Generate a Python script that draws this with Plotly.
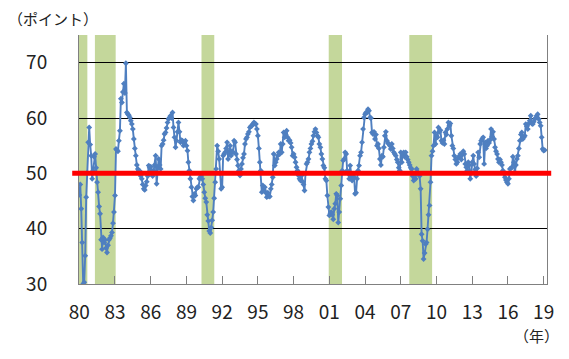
import pandas as pd
import plotly.graph_objects as go

# ISM-style PMI, monthly from Jan 1980
pmi_1980s = [
    46.1, 48.0, 43.6, 37.5, 30.0, 30.3, 35.1, 45.7, 50.1, 55.6, 58.3, 55.2,
    53.2, 49.0, 50.5, 53.0, 53.5, 51.0, 48.4, 46.6, 44.0, 42.7, 38.0, 36.3,
    38.4, 37.5, 38.0, 36.5, 35.7, 37.0, 38.0, 38.3, 38.7, 39.3, 41.0, 43.0,
    46.0, 54.4, 54.2, 54.0, 55.9, 57.7, 63.5, 62.8, 64.7, 66.2, 64.5, 69.9,
    61.0, 60.7, 60.5, 60.1, 59.5, 58.9, 58.0, 56.2, 54.5, 53.2, 51.5, 50.8,
    50.5, 50.4, 49.5, 49.0, 48.0, 47.2, 47.0, 47.8, 48.5, 49.5, 51.4, 51.0,
    51.2, 50.5, 49.5, 50.5, 51.5, 53.2, 48.1, 51.0, 52.6, 51.5, 50.8, 55.0,
    55.3, 56.0, 57.1, 57.4, 58.2, 59.2, 59.8, 60.1, 60.4, 60.0, 61.0, 58.3,
    56.5, 54.7, 55.9, 57.5, 59.2, 57.5, 55.6, 56.0, 55.9, 55.0, 55.5, 55.9,
    55.0, 54.1, 52.0, 50.5, 49.0, 47.5, 45.8, 45.1, 46.3, 46.0, 47.2, 47.5,
]
pmi_1990s = [
    47.5, 49.0, 49.3, 49.5, 49.0, 48.0, 46.6, 45.5, 44.8, 42.5, 41.4, 39.6,
    39.2, 40.2, 41.5, 43.0, 45.5, 48.4, 50.8, 55.0, 54.0, 52.6, 50.0, 47.2,
    47.5, 53.2, 53.5, 53.8, 54.5, 55.6, 52.6, 53.5, 55.0, 53.2, 54.0, 53.8,
    55.9, 55.6, 53.5, 52.5, 51.4, 50.5, 49.6, 50.8, 51.7, 52.8, 53.5, 55.3,
    56.2, 56.5, 57.1, 57.5, 58.3, 58.5, 58.6, 58.9, 59.2, 59.0, 58.9, 58.0,
    56.8, 54.5, 52.0, 50.5, 46.6, 47.8, 47.0, 47.5, 46.5, 45.7, 46.5, 45.9,
    45.8, 47.2, 48.0, 49.3, 53.5, 51.4, 52.0, 52.6, 53.2, 53.8, 53.5, 55.3,
    53.8, 55.3, 57.4, 56.5, 57.0, 57.7, 56.5, 55.9, 56.0, 55.5, 54.7, 53.2,
    53.5, 52.9, 52.0, 51.1, 50.5, 49.6, 49.0, 48.7, 49.6, 48.5, 48.0, 46.9,
    50.0, 51.7, 52.0, 52.6, 53.8, 54.5, 55.3, 55.8, 56.8, 57.5, 58.0, 57.4,
]
pmi_2000s = [
    56.8, 56.5, 55.3, 54.7, 53.5, 52.6, 51.4, 51.0, 49.0, 48.7, 46.0, 43.9,
    42.4, 42.8, 43.0, 42.5, 41.7, 43.6, 44.5, 46.3, 46.0, 41.1, 43.0, 45.4,
    47.8, 50.5, 52.3, 52.6, 53.8, 53.5, 50.5, 50.0, 49.0, 51.4, 49.5, 48.7,
    49.5, 49.3, 46.3, 46.5, 49.0, 50.5, 51.4, 53.2, 53.8, 55.6, 58.0, 60.1,
    60.7, 61.0, 61.0, 61.6, 61.3, 60.1, 60.0, 57.4, 57.1, 57.5, 56.2, 57.0,
    55.0, 55.3, 54.5, 52.6, 51.5, 53.2, 53.0, 54.7, 56.8, 57.5, 55.9, 55.5,
    55.3, 55.0, 54.4, 55.3, 54.5, 53.8, 53.5, 53.2, 52.5, 52.0, 51.0, 50.5,
    53.8, 52.0, 53.5, 53.8, 53.0, 53.8, 53.0, 52.5, 52.0, 51.5, 51.0, 50.8,
    49.5, 48.7, 49.0, 49.0, 50.8, 50.2, 50.0, 49.5, 47.2, 39.0, 37.8, 34.5,
    35.6, 37.2, 37.5, 39.9, 42.5, 44.2, 48.4, 53.2, 54.0, 55.0, 57.4, 55.3,
]
pmi_2010s = [
    56.8, 56.5, 58.3, 57.5, 57.8, 55.9, 55.5, 56.0, 55.3, 57.4, 57.0, 58.0,
    59.2, 58.6, 59.0, 56.8, 55.0, 54.5, 53.2, 52.5, 51.7, 52.0, 52.9, 53.0,
    53.5, 52.5, 53.4, 54.0, 53.5, 51.7, 51.1, 50.5, 52.0, 51.5, 49.0, 50.2,
    52.0, 53.2, 51.7, 50.7, 49.5, 50.9, 53.8, 52.9, 55.3, 55.9, 56.2, 56.5,
    51.7, 55.6, 54.5, 55.0, 55.9, 55.5, 56.0, 58.0, 56.6, 57.5, 56.2, 54.7,
    54.0, 53.5, 52.6, 52.0, 52.5, 52.0, 51.5, 50.5, 50.0, 49.3, 48.8, 48.4,
    48.1, 49.0, 50.8, 50.9, 51.1, 53.0, 52.0, 50.2, 51.5, 52.6, 53.2, 54.5,
    55.9, 57.0, 57.4, 56.2, 56.5, 56.8, 58.9, 58.5, 58.0, 59.0, 59.5, 60.4,
    59.0, 58.9, 59.3, 59.8, 60.0, 60.4, 60.7, 59.8, 59.2, 58.6, 56.5, 54.4,
    54.1, 54.2,
]
pmi = pmi_1980s + pmi_1990s + pmi_2000s + pmi_2010s
dates = pd.date_range("1980-01-01", periods=len(pmi), freq="MS")

# shaded (recession) periods
rec_start = ["1979-12-24", "1981-04-25", "1990-04-07", "2000-12-13", "2007-09-19"]
rec_end = ["1980-09-05", "1983-01-22", "1991-05-04", "2002-01-25", "2009-08-19"]

tick_years = list(range(1980, 2020, 3))
tick_labels = ["80", "83", "86", "89", "92", "95", "98", "01", "04", "07", "10", "13", "16", "19"]
y_ticks = [30, 40, 50, 60, 70]
threshold = 50

FONT = "Noto Sans CJK JP"
BLUE = "#4F7FC0"
GREEN = "#C4D79B"
TEXT = "#222222"

fig = go.Figure()
fig.add_trace(go.Scatter(
    x=dates, y=pmi, mode="lines+markers",
    line=dict(color=BLUE, width=1.9),
    marker=dict(symbol="diamond", size=4.5, color=BLUE),
    hoverinfo="skip", showlegend=False, cliponaxis=True,
))

for s, e in zip(rec_start, rec_end):
    fig.add_shape(type="rect", xref="x", yref="paper", x0=s, x1=e, y0=0, y1=1,
                  fillcolor=GREEN, line_width=0, layer="between")

fig.add_shape(type="line", xref="paper", yref="y", x0=-0.0145, x1=1.009,
              y0=threshold, y1=threshold, line=dict(color="#FF0000", width=5),
              layer="above")

fig.update_layout(
    width=569, height=359,
    margin=dict(l=78.5, r=22.3, t=35, b=75, autoexpand=False),
    paper_bgcolor="white", plot_bgcolor="white",
    font=dict(family=FONT, size=19, color=TEXT),
    xaxis=dict(
        type="date", range=["1979-12-24", "2019-04-13"],
        tickvals=[f"{y}-01-01" for y in tick_years], ticktext=tick_labels,
        ticks="inside", ticklen=8, tickcolor="#808080", tickwidth=1,
        showline=True, linecolor="#808080", linewidth=1,
        showgrid=False, zeroline=False, ticklabelstandoff=11,
        tickfont=dict(family=FONT, size=19, color=TEXT),
    ),
    yaxis=dict(
        range=[30, 75], tickvals=y_ticks,
        showline=True, linecolor="#808080", linewidth=1, mirror=True,
        showgrid=True, gridcolor="#000000", gridwidth=1,
        zeroline=False, ticks="outside", ticklen=27,
        tickcolor="rgba(0,0,0,0)",
        tickfont=dict(family=FONT, size=19, color=TEXT),
    ),
    annotations=[
        dict(text="（ポイント）", xref="paper", yref="paper", x=-0.155, y=1.068,
             xanchor="left", yanchor="middle", showarrow=False,
             font=dict(family=FONT, size=15, color=TEXT)),
        dict(text="（年）", xref="paper", yref="paper", x=1.03, y=-0.205,
             xanchor="right", yanchor="middle", showarrow=False,
             font=dict(family=FONT, size=15, color=TEXT)),
    ],
)

fig.write_html("out.html", config={"displayModeBar": False},
               post_script="document.body.style.margin='0';")
